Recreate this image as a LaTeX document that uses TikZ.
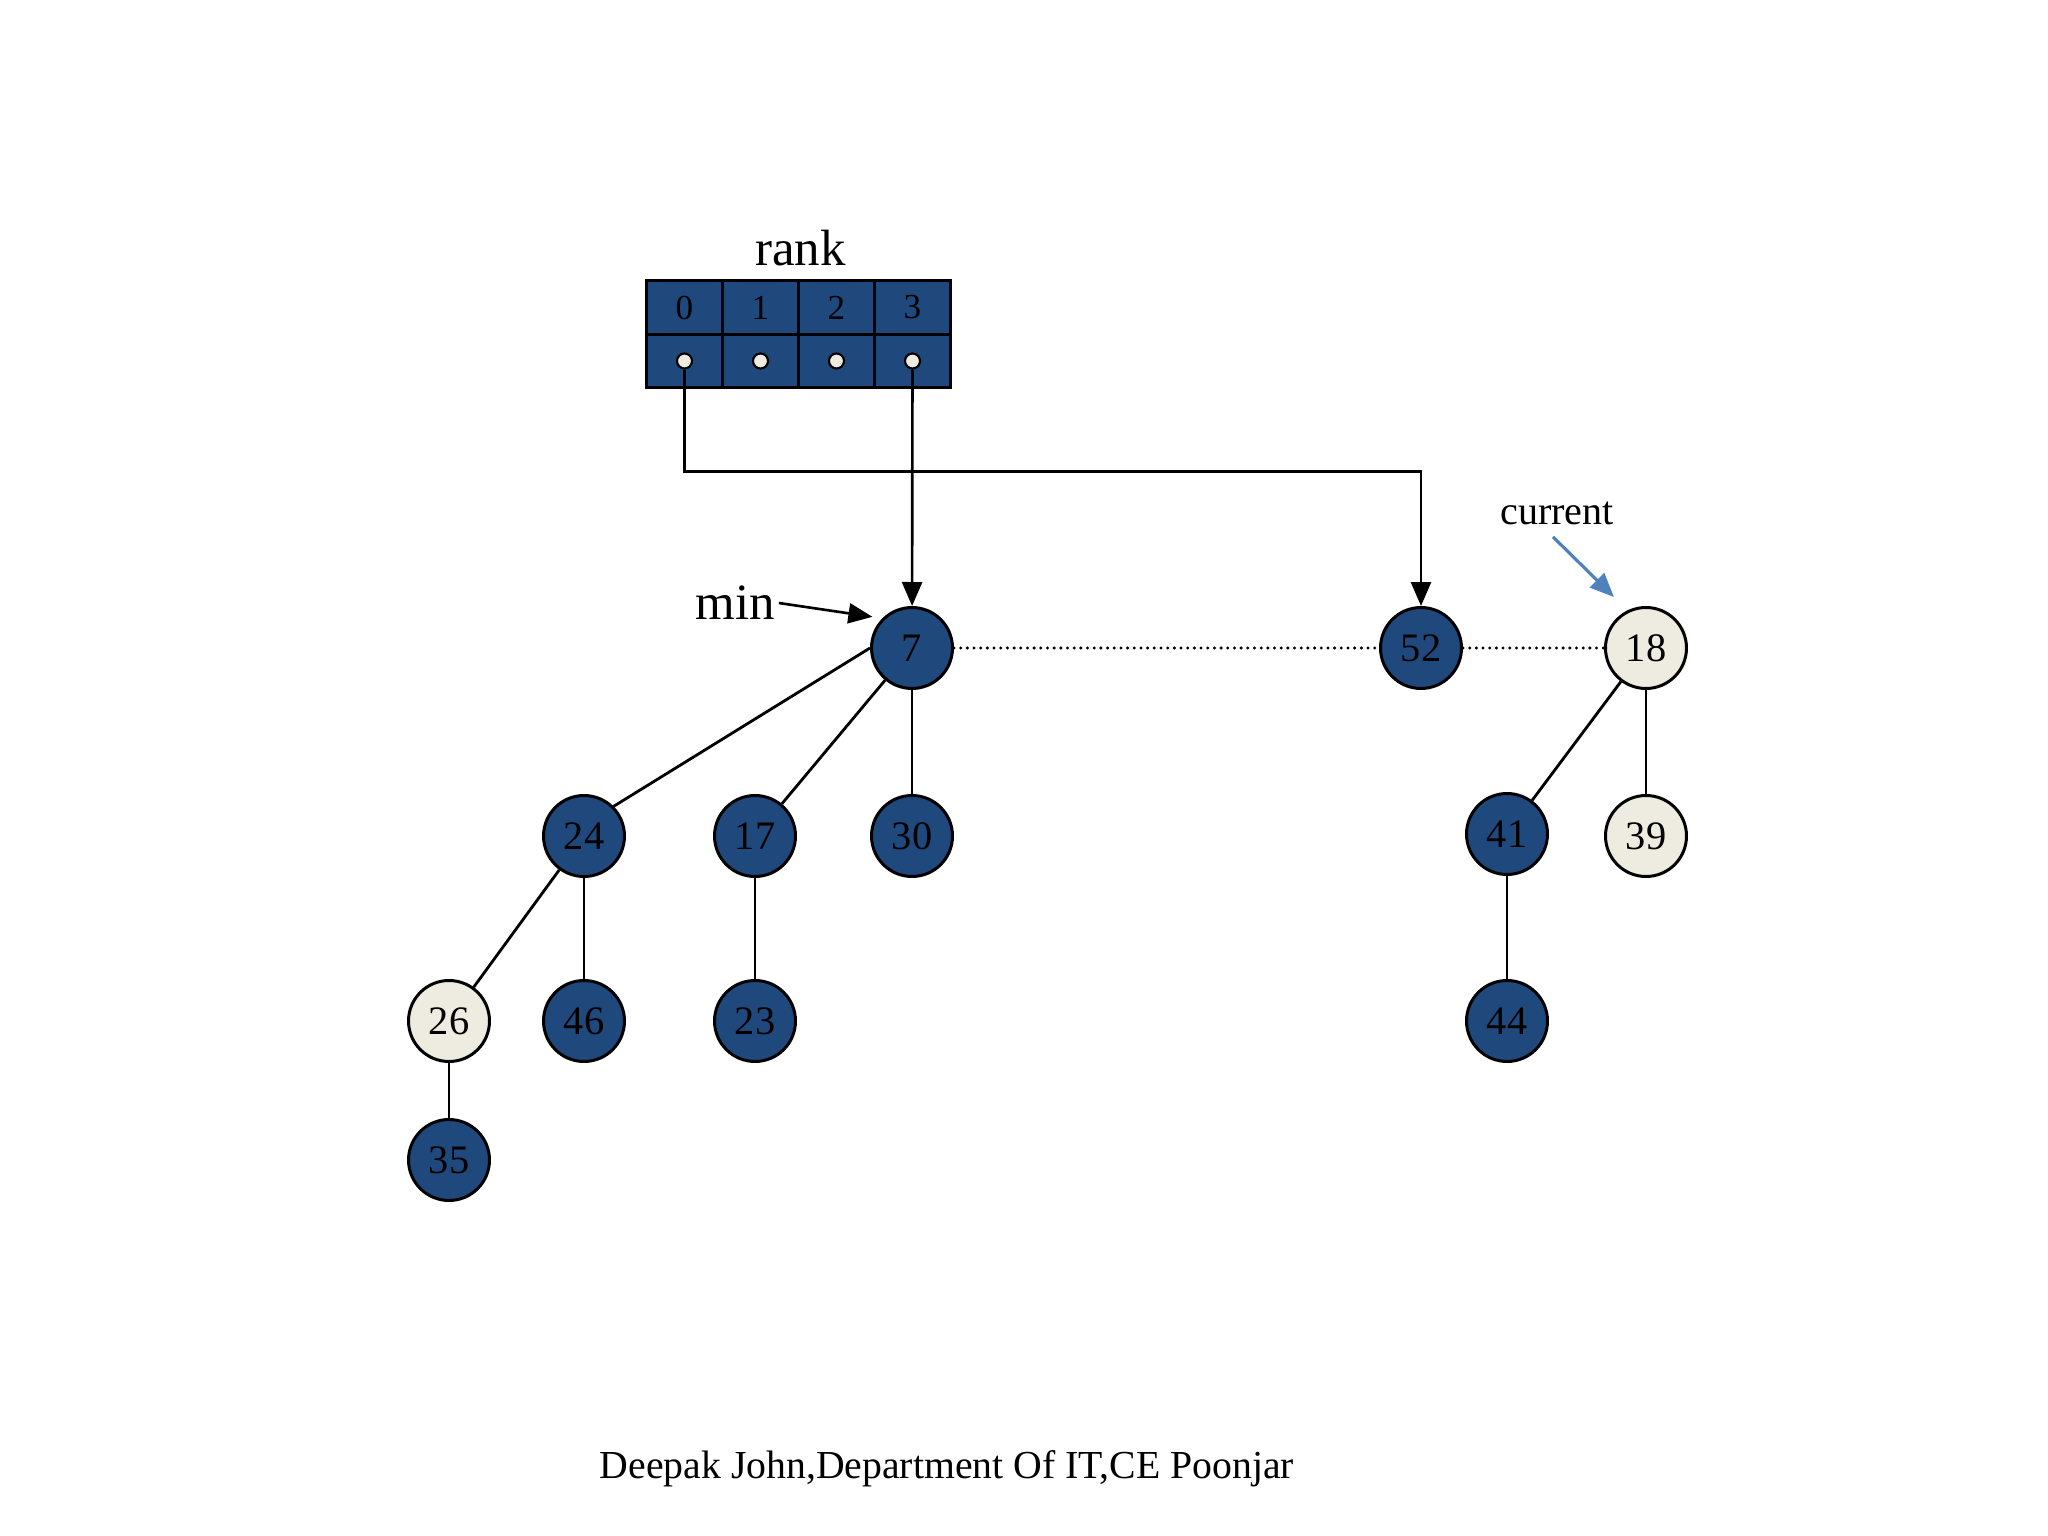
\documentclass[tikz,border=0pt]{standalone}
\usepackage{fontspec}
\setmainfont{Liberation Serif}
\usepackage{tikz}
\usetikzlibrary{arrows.meta,positioning}
\definecolor{HeapBlue}{HTML}{1F497D}
\definecolor{HeapPale}{HTML}{EEECE1}
\definecolor{HeapArrow}{HTML}{4F81BD}

\begin{document}
\begin{tikzpicture}[x=1cm,y=1cm]
    \tikzset{
      key/.style={circle, minimum size=8.1mm, inner sep=0pt, draw=black,
        fill=HeapBlue, line width=.85pt, font=\fontsize{11.5}{12}\selectfont},
      marked/.style={key, fill=HeapPale},
      slot/.style={rectangle, draw=black, fill=HeapBlue, line width=.8pt,
        minimum width=7.6mm, minimum height=5.35mm, inner sep=0pt, outer sep=0pt,
        font=\fontsize{10}{11}\selectfont},
      dot/.style={circle, draw=black, fill=HeapPale, line width=.6pt,
        minimum size=1.5mm, inner sep=0pt},
      edge/.style={draw=black, line width=.8pt},
      ptr/.style={-{Triangle[length=2.4mm,width=2mm]}, draw=black, line width=.75pt},
      sibling/.style={draw=black, line width=.95pt, line cap=round,
        dash pattern=on 0pt off 1.9pt}
    }
    \useasboundingbox (0,0) rectangle (20.48,-15.36);
    % rank array
    \node[slot] (r0) at (6.845,-3.075) {0};
    \node[slot,right=0pt of r0] (r1) {1};
    \node[slot,right=0pt of r1] (r2) {2};
    \node[slot,right=0pt of r2] (r3) {3};
    \foreach \i in {0,...,3}
      \node[slot,below=0pt of r\i] (p\i) {};
    \foreach \i in {0,...,3}
      \node[dot] (d\i) at (p\i) {};
    \node[font=\fontsize{14.5}{15}\selectfont] (rank) at (8.006,-2.48) {rank};
    % root list
    \node[key] (n7) at (9.12,-6.48) {7};
    \node[key] (n52) at (14.21,-6.48) {52};
    \node[marked] (n18) at (16.46,-6.48) {18};
    % children
    \node[key] (n24) at (5.84,-8.36) {24};
    \node[key] (n17) at (7.55,-8.36) {17};
    \node[key] (n30) at (9.12,-8.36) {30};
    \node[key] (n41) at (15.07,-8.34) {41};
    \node[marked] (n39) at (16.46,-8.36) {39};
    \node[marked] (n26) at (4.49,-10.21) {26};
    \node[key] (n46) at (5.84,-10.21) {46};
    \node[key] (n23) at (7.55,-10.21) {23};
    \node[key] (n44) at (15.07,-10.21) {44};
    \node[key] (n35) at (4.49,-11.60) {35};
    \draw[edge] (n7.west) -- (n24.north east);
    \foreach \a/\b in {n7/n17,n7/n30,n24/n26,n24/n46,n17/n23,n26/n35,n18/n41,n18/n39,n41/n44}
      \draw[edge] (\a) -- (\b);
    \draw[sibling] (n7) -- (n52);
    \draw[sibling] (n52) -- (n18);
    % pointers
    \coordinate (bend) at (6.845,-4.715);
    \draw[ptr] (d0) -- (bend) -| (n52);
    \draw[ptr] (d3) -- (n7);
    \node[font=\fontsize{14.5}{15}\selectfont,inner sep=1pt] (min) at (7.35,-6.03) {min};
    \draw[ptr,shorten >=1mm] (min.east) -- (n7.135);
    \node[font=\fontsize{11.4}{12}\selectfont] (current) at (15.57,-5.13) {current};
    \coordinate (curtip) at (16.14,-5.97);
    \draw[-{Triangle[length=2.4mm,width=2mm]},draw=HeapArrow,line width=.9pt]
      ([xshift=-.4mm]current.south) -- (curtip);
    \node[font=\fontsize{11.3}{12}\selectfont] (credit) at (9.47,-14.69)
      {Deepak John,Department Of IT,CE Poonjar};
  \end{tikzpicture}
\end{document}
